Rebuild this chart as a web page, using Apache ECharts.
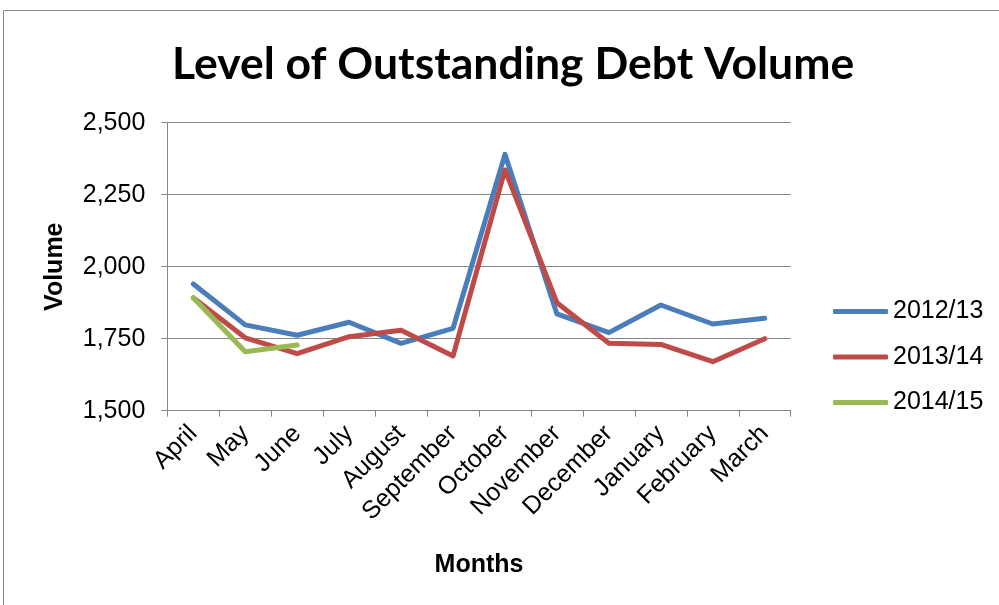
<!DOCTYPE html>
<html>
<head>
<meta charset="utf-8">
<script src="https://cdn.jsdelivr.net/npm/echarts@6/dist/echarts.min.js"></script>
<style>html,body{margin:0;padding:0;background:#fff}#c{width:999px;height:605px}</style>
</head>
<body>
<div id="c"></div>
<script>
const months = ['April','May','June','July','August','September','October','November','December','January','February','March'];
const s2012 = [1940, 1798, 1762, 1807, 1734, 1786, 2390, 1836, 1771, 1867, 1801, 1821];
const s2013 = [1892, 1753, 1698, 1757, 1779, 1690, 2336, 1875, 1734, 1730, 1670, 1750];
const s2014 = [1892, 1705, 1728, null, null, null, null, null, null, null, null, null];
const seriesNames = ['2012/13', '2013/14', '2014/15'];
const colors = ['#4A7EBB', '#BE4B48', '#98B954'];
const yTicks = { min: 1500, max: 2500, interval: 250 };

const chart = echarts.init(document.getElementById('c'), null, { renderer: 'canvas' });
const ax = 'Liberation Sans, Arial, sans-serif';
const grey = '#868686';
function mk(name, data, color) {
  return {
    name, type: 'line', data, showSymbol: false, symbol: 'none', connectNulls: false,
    lineStyle: { color, width: 5, cap: 'round', join: 'round' },
    itemStyle: { color }, animation: false
  };
}
chart.setOption({
  animation: false,
  color: colors,
  title: {
    text: 'Level of Outstanding Debt Volume',
    left: 167, top: 37,
    textStyle: { fontFamily: 'Lato', fontWeight: 'bold', fontSize: 44.5, color: '#000' }
  },
  graphic: [{
    type: 'rect', shape: { x: 3.5, y: 10.5, width: 1100, height: 700 },
    style: { fill: 'none', stroke: grey, lineWidth: 1 }, silent: true
  }],
  legend: {
    orient: 'vertical', left: 828, top: 294,
    itemWidth: 55, itemHeight: 5, itemGap: 20.5, icon: 'roundRect',
    textStyle: { fontFamily: ax, fontSize: 25, color: '#000', lineHeight: 25 },
    data: seriesNames
  },
  grid: { left: 167.3, right: 208.3, top: 122.7, bottom: 194.3, containLabel: false },
  xAxis: {
    type: 'category', data: months, boundaryGap: true,
    name: 'Months', nameLocation: 'middle', nameGap: 142,
    nameTextStyle: { fontFamily: ax, fontSize: 25, fontWeight: 'bold', color: '#000' },
    axisLine: { lineStyle: { color: grey, width: 1 } },
    axisTick: { show: true, length: 6, inside: false, lineStyle: { color: grey } },
    axisLabel: { rotate: 45, margin: 19, fontFamily: ax, fontSize: 25, color: '#000', interval: 0 }
  },
  yAxis: {
    type: 'value', min: yTicks.min, max: yTicks.max, interval: yTicks.interval,
    name: 'Volume', nameLocation: 'middle', nameRotate: 90, nameGap: 100,
    nameTextStyle: { fontFamily: ax, fontSize: 25, fontWeight: 'bold', color: '#000' },
    axisLine: { show: true, lineStyle: { color: grey, width: 1 } },
    axisTick: { show: true, length: 6, lineStyle: { color: grey } },
    splitLine: { show: true, lineStyle: { color: grey, width: 1 } },
    axisLabel: { margin: 22, fontFamily: ax, fontSize: 25, color: '#000',
      formatter: v => v.toLocaleString('en-US') }
  },
  series: [mk(seriesNames[0], s2012, colors[0]), mk(seriesNames[1], s2013, colors[1]), mk(seriesNames[2], s2014, colors[2])]
});
</script>
</body>
</html>
